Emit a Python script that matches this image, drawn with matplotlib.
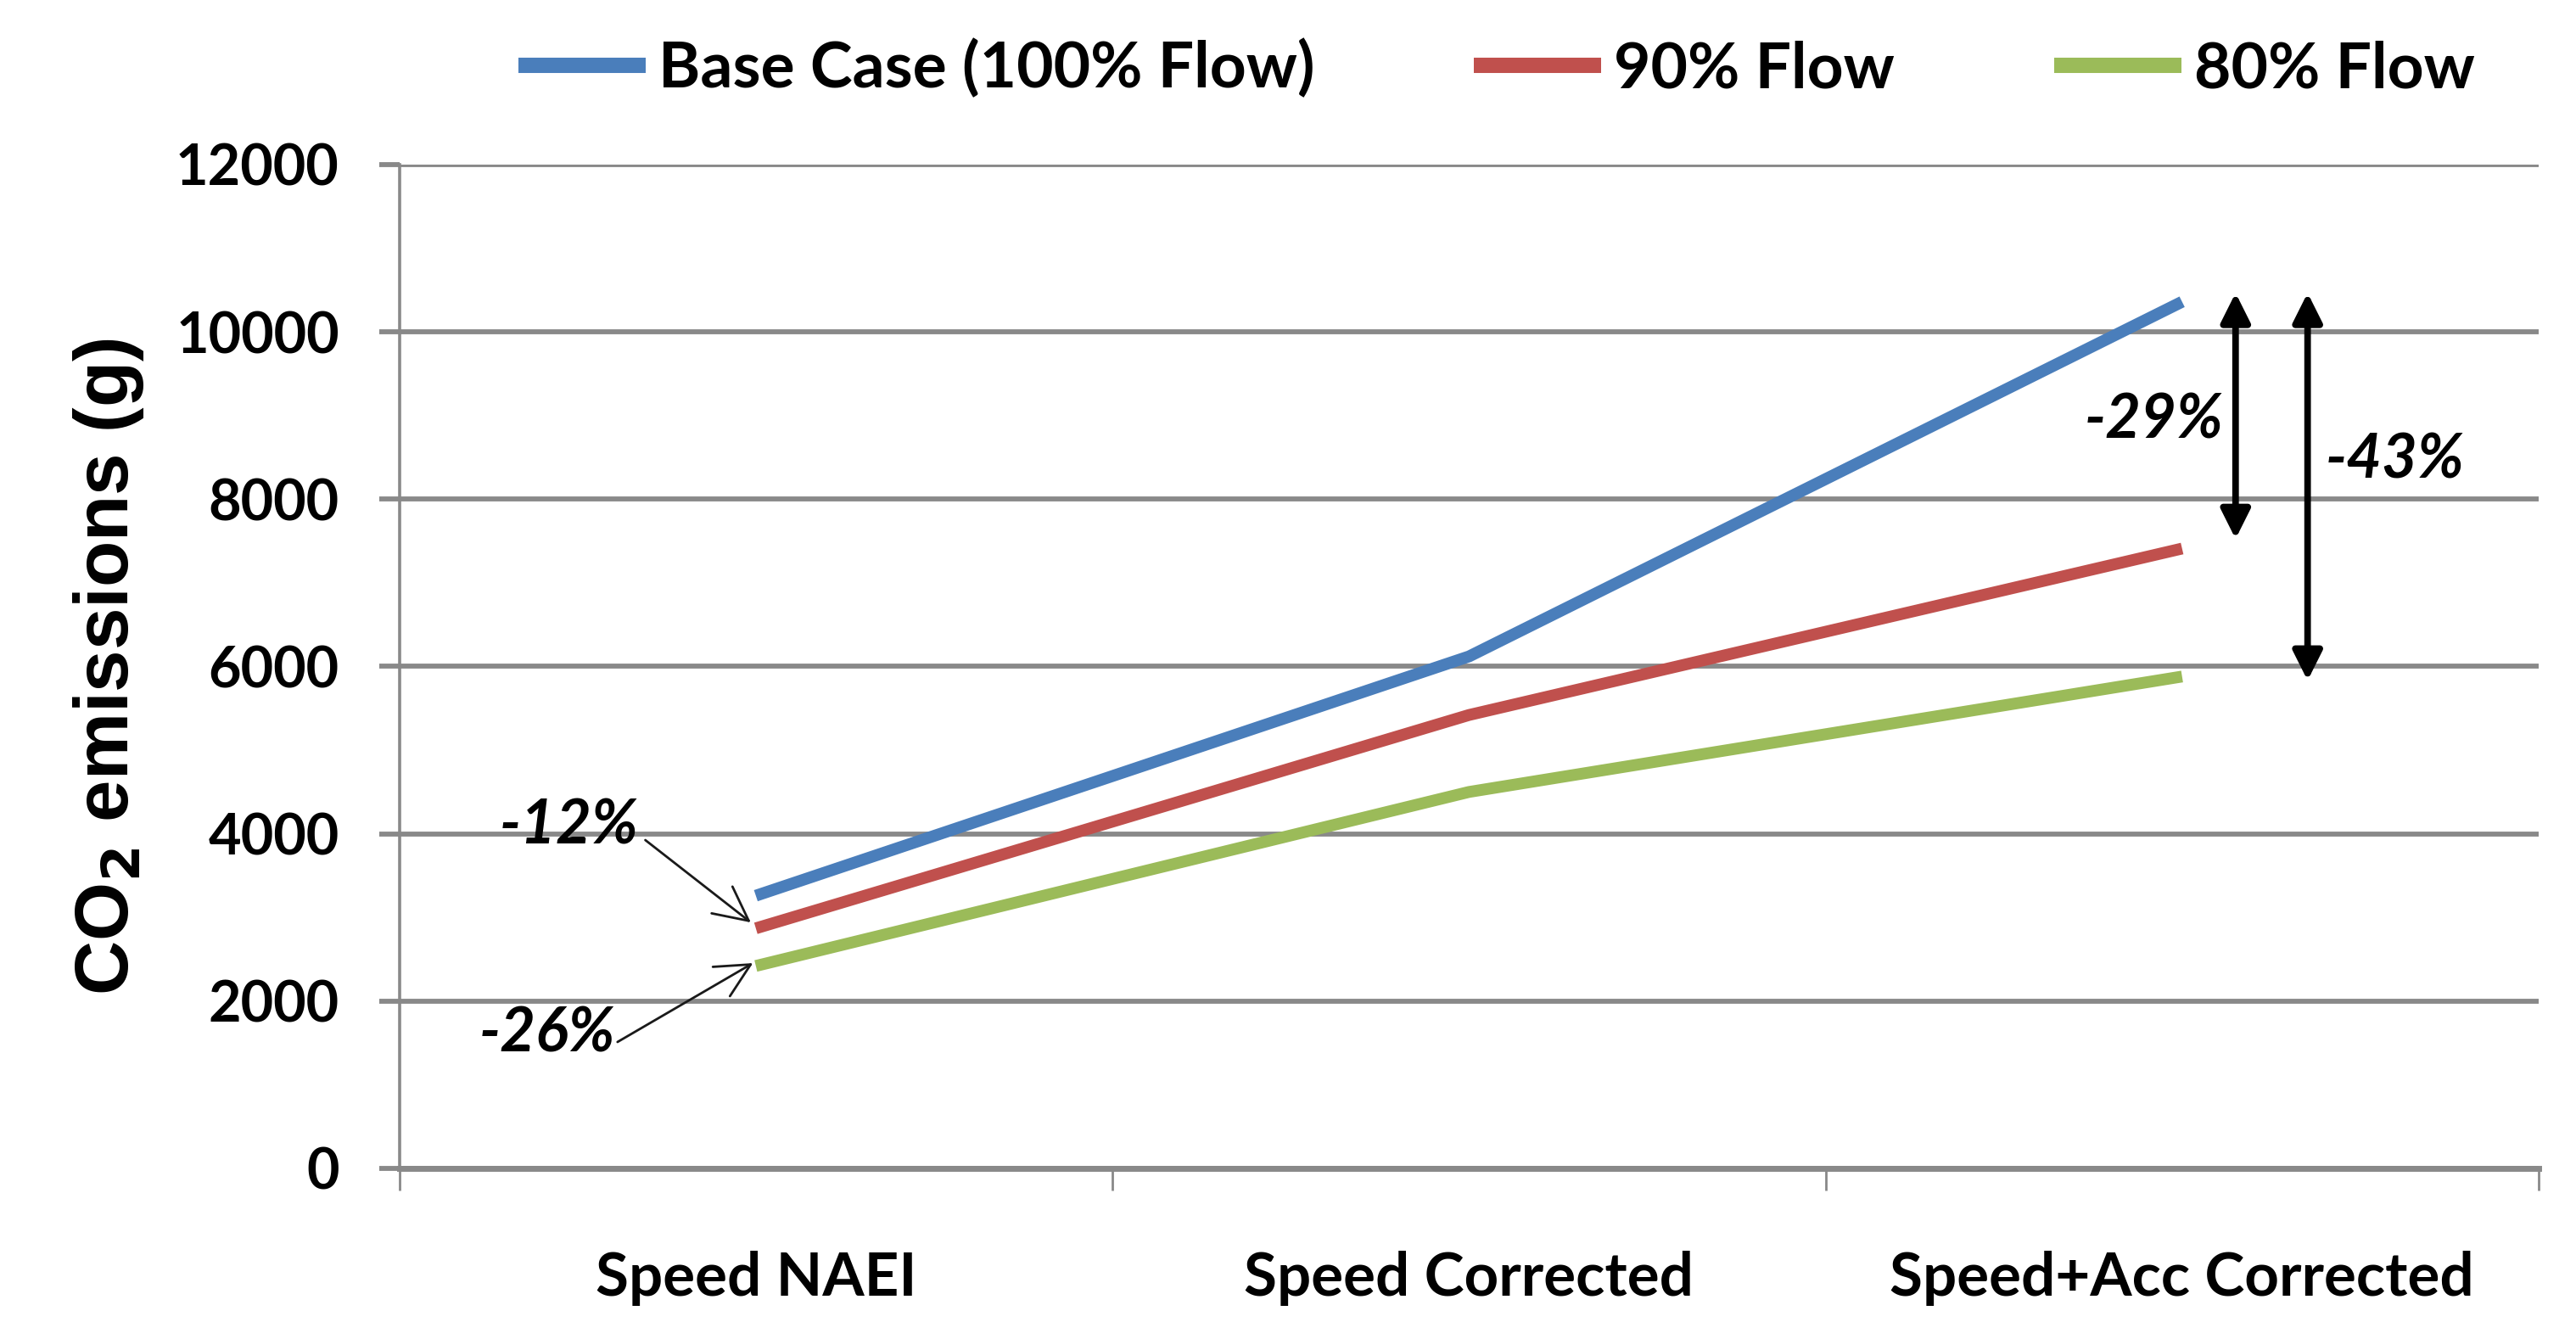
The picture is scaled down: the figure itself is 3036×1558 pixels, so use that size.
import matplotlib
matplotlib.use("Agg")
import matplotlib.pyplot as plt

categories = ["Speed NAEI", "Speed Corrected", "Speed+Acc Corrected"]
series_names = ["Base Case (100% Flow)", "90% Flow", "80% Flow"]
base_case = [3260, 6120, 10360]
flow_90 = [2870, 5420, 7410]
flow_80 = [2420, 4500, 5880]
y_ticks = [0, 2000, 4000, 6000, 8000, 10000, 12000]

colors = ["#4A7EBB", "#C0504D", "#9BBB59"]
grid_col = "#898989"
font = ["Lato", "DejaVu Sans"]

plt.rcParams["font.family"] = font
plt.rcParams["font.weight"] = "bold"

fig = plt.figure(figsize=(15.18, 7.79), dpi=200)
ax = fig.add_axes([0.155, 0.1162, 0.8305, 0.7593])

x = list(range(len(categories)))
for vals, name, c in zip([base_case, flow_90, flow_80], series_names, colors):
    ax.plot(x, vals, color=c, lw=5.0, label=name, solid_capstyle="butt",
            solid_joinstyle="round", zorder=3)

ax.set_xlim(-0.5, 2.5)
ax.set_ylim(0, 12000)
ax.set_yticks(y_ticks)
ax.set_yticklabels([str(v) for v in y_ticks], fontsize=24, fontweight="bold")
ax.yaxis.grid(True, color=grid_col, lw=2.1)
ax.set_axisbelow(True)

# category labels sit between the tick marks, like Excel
ax.set_xticks([-0.5, 0.5, 1.5, 2.5])
ax.set_xticklabels([])
ax.set_xticks(x, minor=True)
ax.set_xticklabels(categories, minor=True, fontsize=25.5, fontweight="bold")
ax.tick_params(axis="x", which="minor", length=0, pad=35)
ax.tick_params(axis="x", which="major", length=9.4, width=1.0, color=grid_col, direction="out")
ax.tick_params(axis="y", length=8.5, width=2.1, color=grid_col, pad=17)

for s in ["top", "right"]:
    ax.spines[s].set_visible(False)
ax.spines["left"].set_color(grid_col)
ax.spines["left"].set_linewidth(1.3)
ax.spines["bottom"].set_color(grid_col)
ax.spines["bottom"].set_linewidth(2.5)

ax.set_ylabel("CO$_\\mathbf{2}$ emissions (g)", fontsize=32, fontweight="bold",
              family=["Liberation Sans", "DejaVu Sans"], va="center")
ax.yaxis.set_label_coords(-0.136, 0.5)

# thin arrows at the first category
thin = dict(arrowstyle="->, head_length=0.6, head_width=0.3", color="#1A1A1A", lw=1.0,
            shrinkA=0, shrinkB=0, mutation_scale=24)
ax.annotate("", xy=(-0.007, 2940), xytext=(-0.155, 3925), arrowprops=thin)
ax.annotate("", xy=(-0.004, 2454), xytext=(-0.194, 1511), arrowprops=thin)
ax.text(-0.262, 4087, "-12%", fontsize=26, fontweight="bold", style="italic",
        ha="center", va="center")
ax.text(-0.293, 1602, "-26%", fontsize=26, fontweight="bold", style="italic",
        ha="center", va="center")

# double arrows at the last category
thick = dict(arrowstyle="<|-|>", color="black", lw=2.8, shrinkA=0, shrinkB=0,
             mutation_scale=26)
ax.annotate("", xy=(2.075, 7525), xytext=(2.075, 10466), arrowprops=thick)
ax.annotate("", xy=(2.176, 5832), xytext=(2.176, 10466), arrowprops=thick)
ax.text(1.96, 8935, "-29%", fontsize=26, fontweight="bold", style="italic",
        ha="center", va="center")
ax.text(2.298, 8458, "-43%", fontsize=26, fontweight="bold", style="italic",
        ha="center", va="center")

leg = fig.legend(loc="center", bbox_to_anchor=(0.581, 0.948), ncol=3, frameon=False,
                 prop={"size": 27, "weight": "bold"}, handlelength=2.0,
                 handletextpad=0.2, columnspacing=2.5)
for h in leg.get_lines():
    h.set_linewidth(6.5)

fig.savefig("out.png", dpi=200, facecolor="white")
